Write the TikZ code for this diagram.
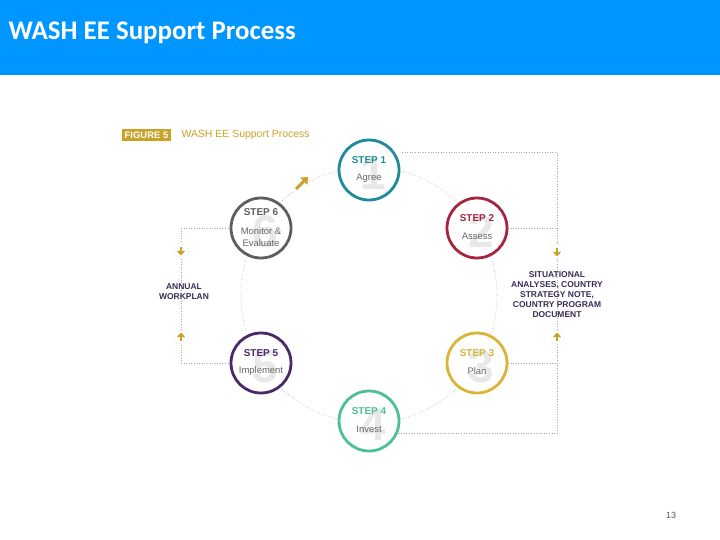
\documentclass[tikz,border=0pt]{standalone}
\usepackage{fontspec}
\setmainfont{Liberation Sans}
\newfontfamily\titlefont{Carlito}
\usetikzlibrary{arrows.meta}
\definecolor{hdr}{HTML}{0096FF}
\definecolor{gold}{HTML}{C9A227}
\definecolor{cA}{HTML}{1F8A9B}
\definecolor{cB}{HTML}{A3263F}
\definecolor{cC}{HTML}{D9B536}
\definecolor{cD}{HTML}{4DBF9A}
\definecolor{cE}{HTML}{4A2A66}
\definecolor{cF}{HTML}{5E5E5E}
\definecolor{dtx}{HTML}{3A2A55}
\begin{document}
\begin{tikzpicture}[x=1bp,y=-1bp,
  stepc/.style={circle,draw=#1,line width=2.8bp,minimum size=60bp,inner sep=0pt,fill=white},
  dots/.style={draw=gray!70,line width=0.6bp,dotted},
  bignum/.style={text=gray!18,font=\bfseries\fontsize{46}{46}\selectfont},
  icon/.style={circle,draw=gray!50,dotted,fill=white,minimum size=14bp,inner sep=0pt},
  sidetxt/.style={text=dtx,font=\bfseries\fontsize{8.5}{10}\selectfont,align=center}]
\useasboundingbox (0,0) rectangle (720,540);
\fill[hdr] (0,0) rectangle (720,75);
\node[anchor=west,text=white,font=\titlefont\bfseries\fontsize{27}{29}\selectfont] (title) at (5,33) {WASH EE Support Process};
\node[fill=gold,text=white,font=\bfseries\fontsize{9.5}{10}\selectfont,inner sep=2.5bp,anchor=west] (fig) at (122,135) {FIGURE 5};
\node[anchor=west,text=gold,font=\fontsize{10.5}{11}\selectfont] (figt) at (178,135) {WASH EE Support Process};
\draw[dots] (369,295) circle (128);
\coordinate (r1) at (557,152); \coordinate (r4) at (557,433);
\coordinate (r2) at (557,228); \coordinate (r3) at (557,363);
\coordinate (l6) at (181,228); \coordinate (l5) at (181,363);
\draw[dots] (402,152) -- (r1) -- (r4) -- (369,433);
\draw[dots] (477,228) -- (r2);
\draw[dots] (477,363) -- (r3);
\draw[dots] (l6) -- (261,228);
\draw[dots] (l5) -- (261,363);
\draw[dots] (l6) -- (l5);
\foreach \n/\x/\y/\c/\s/\t in {1/369/170/cA/STEP 1/Agree,2/477/228/cB/STEP 2/Assess,3/477/363/cC/STEP 3/Plan,4/369/421/cD/STEP 4/Invest,5/261/363/cE/STEP 5/Implement}{
  \node[stepc=\c] (s\n) at (\x,\y) {};
  \node[bignum] (b\n) at (\x+4,\y+4) {\n};
  \node[text=\c,font=\bfseries\fontsize{10}{11}\selectfont] (h\n) at (\x,\y-10) {\s};
  \node[text=gray!80!black,font=\fontsize{9.5}{11}\selectfont] (t\n) at (\x,\y+8) {\t};
}
\node[stepc=cF] (s6) at (261,228) {};
\node[bignum] (b6) at (265,232) {6};
\node[text=cF,font=\bfseries\fontsize{10}{11}\selectfont] (h6) at (261,212) {STEP 6};
\node[text=gray!80!black,font=\fontsize{9.5}{12}\selectfont,align=center] (t6) at (261,237) {Monitor \&\\Evaluate};
\foreach \i/\x/\y/\d in {i1/557/252/90,i2/557/337/-90,i3/181/251/90,i4/181/337/-90}{
  \node[icon] (\i) at (\x,\y) {};
  \draw[gold,line width=2.4bp,-{Triangle[length=4.5bp,width=8bp]}] ([shift={(\d+180:3.5)}]\i.center) -- ([shift={(\d:4.5)}]\i.center);
}
\coordinate (ga) at (296,189); \coordinate (gb) at (308,177);
\draw[gold,line width=3bp,-{Triangle[length=6bp,width=10bp]}] (ga) -- (gb);
\node[sidetxt] (sit) at (557,295) {SITUATIONAL\\ANALYSES, COUNTRY\\STRATEGY NOTE,\\COUNTRY PROGRAM\\DOCUMENT};
\node[sidetxt] (aw) at (184,292) {ANNUAL\\WORKPLAN};
\node[text=gray!70!black,font=\fontsize{9}{10}\selectfont] (pg) at (671,515) {13};
\end{tikzpicture}
\end{document}
